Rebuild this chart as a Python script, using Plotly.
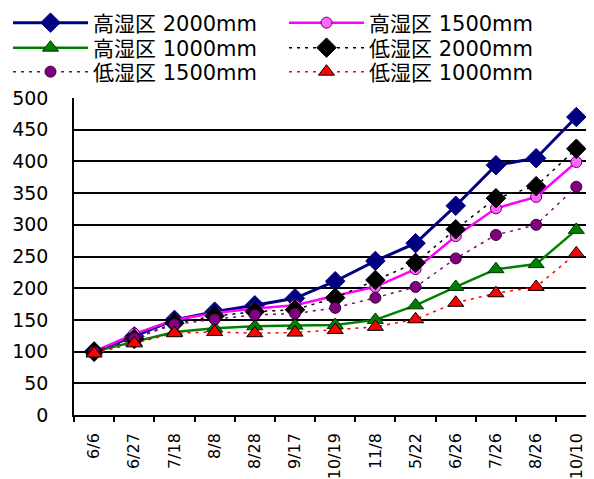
import plotly.graph_objects as go

categories = ["6/6", "6/27", "7/18", "8/8", "8/28", "9/17", "10/19", "11/8",
              "5/22", "6/26", "7/26", "8/26", "10/10"]
series_names = ["高湿区 2000mm", "高湿区 1500mm", "高湿区 1000mm",
                "低湿区 2000mm", "低湿区 1500mm", "低湿区 1000mm"]
high_2000 = [100, 124, 150, 163, 173, 184, 211, 243, 271, 330, 394, 405, 470]
high_1500 = [100, 128, 150, 161, 168, 173, 188, 202, 230, 282, 326, 344, 399]
high_1000 = [100, 115, 131, 137, 140, 141, 142, 150, 173, 202, 230, 238, 292]
low_2000 = [100, 120, 145, 156, 163, 166, 185, 213, 240, 293, 342, 361, 420]
low_1500 = [100, 121, 143, 151, 158, 160, 169, 185, 202, 247, 284, 300, 360]
low_1000 = [97, 113, 129, 131, 129, 130, 134, 139, 151, 177, 192, 202, 255]
y_ticks = [0, 50, 100, 150, 200, 250, 300, 350, 400, 450, 500]

FONT = "DejaVu Sans, Noto Sans CJK JP, sans-serif"

styles = [
    dict(color="#000080", width=3, dash="solid", symbol="diamond", size=15, mcolor="#000080", mline="#000080"),
    dict(color="#FF00FF", width=2.5, dash="solid", symbol="circle", size=11, mcolor="#FF66FF", mline="#660066"),
    dict(color="#008000", width=2.5, dash="solid", symbol="triangle-up", size=14, mcolor="#008000", mline="#003300"),
    dict(color="#000000", width=1.5, dash="3px,5px", symbol="diamond", size=15, mcolor="#000000", mline="#000000"),
    dict(color="#800080", width=1.5, dash="3px,5px", symbol="circle", size=11, mcolor="#800080", mline="#330033"),
    dict(color="#FF0000", width=1.5, dash="3px,5px", symbol="triangle-up", size=14, mcolor="#FF0000", mline="#000000"),
]
data = [high_2000, high_1500, high_1000, low_2000, low_1500, low_1000]
legend_rows = ["legend", "legend", "legend2", "legend2", "legend3", "legend3"]

fig = go.Figure()
for name, vals, st, lg in zip(series_names, data, styles, legend_rows):
    fig.add_trace(go.Scatter(
        x=categories, y=vals, name=name, mode="lines+markers", legend=lg,
        line=dict(color=st["color"], width=st["width"], dash=st["dash"]),
        marker=dict(symbol=st["symbol"], size=st["size"], color=st["mcolor"],
                    line=dict(color=st["mline"], width=1)),
    ))

W, H = 586, 471
ML, MR, MT, MB = 66, 0, 90, 64
PW, PH = W - ML - MR, H - MT - MB


def legend_row(center_y):
    return dict(
        orientation="h", xref="paper", yref="paper",
        x=-ML / PW, y=1 + (MT - center_y) / PH, xanchor="left", yanchor="middle",
        entrywidthmode="pixels", entrywidth=186, itemwidth=75,
        font=dict(family=FONT, size=21, color="#000000"),
        bgcolor="rgba(0,0,0,0)",
    )


fig.update_layout(
    width=W, height=H,
    margin=dict(l=ML, r=MR, t=MT, b=MB, autoexpand=False),
    paper_bgcolor="white", plot_bgcolor="white",
    font=dict(family=FONT, color="#000000", size=18),
    legend=legend_row(15),
    legend2=legend_row(40),
    legend3=legend_row(64),
    xaxis=dict(
        type="category", categoryorder="array", categoryarray=categories,
        range=[-0.5, 12.44], tickangle=-90, tickson="boundaries",
        ticks="outside", ticklen=5, tickcolor="#000000", tickwidth=1.5,
        showline=True, linecolor="#000000", linewidth=1.5,
        showgrid=False, ticklabelstandoff=10,
        tickfont=dict(family=FONT, size=16, color="#000000"),
    ),
    yaxis=dict(
        range=[0, 500], tickvals=y_ticks, ticktext=[str(v) for v in y_ticks],
        showgrid=True, gridcolor="#000000", gridwidth=1.5,
        showline=True, linecolor="#000000", linewidth=1.5,
        zeroline=False, ticks="", ticklabelstandoff=20,
        tickfont=dict(family=FONT, size=19, color="#000000"),
    ),
)

fig.write_html("out.html")
